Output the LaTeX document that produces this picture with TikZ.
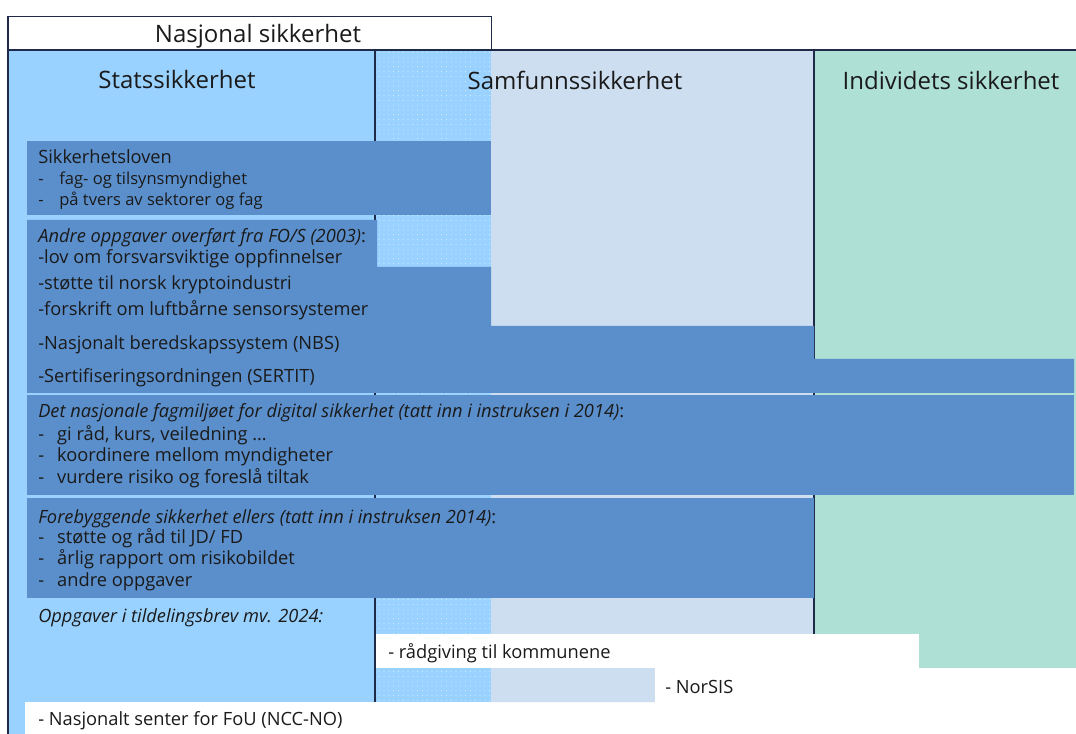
\documentclass[tikz,border=0pt]{standalone}
\usepackage{fontspec}
\setmainfont{Open Sans}
\usetikzlibrary{patterns.meta}

\definecolor{stateblue}{HTML}{99D1FF}
\definecolor{societyblue}{HTML}{CDDEF0}
\definecolor{personmint}{HTML}{AEE0D6}
\definecolor{taskblue}{HTML}{5B8FCB}
\definecolor{framecol}{HTML}{1F2A48}
\definecolor{ink}{HTML}{1A1A1A}

\newcommand\dashline[1]{\makebox[14.2pt][l]{-}#1}

\tikzset{
  framed/.style={draw=framecol, line width=1.1pt},
  frameline/.style={framecol, line width=1.1pt},
  taskbox/.style={fill=taskblue},
  whitebox/.style={fill=white},
  heading/.style={font=\fontsize{18}{22}\selectfont, text=ink, inner sep=0pt, anchor=base},
  bodytext/.style={font=\fontsize{13.7}{16}\selectfont, text=ink, inner sep=0pt, anchor=base west},
  smalltext/.style={font=\fontsize{12.4}{14}\selectfont, text=ink, inner sep=0pt, anchor=base west},
}

\begin{document}
\begin{tikzpicture}[x=0.75pt, y=-0.75pt]
\useasboundingbox (0,0) rectangle (1076,734);
\fill[white] (0,0) rectangle (1076,734);

% columns
\fill[stateblue]  (8,50) rectangle (375,734);
\fill[societyblue] (491,50) -- (814,50) -- (814,668) -- (655,668) -- (655,702) -- (491,702) -- cycle;
\fill[personmint] (814,50) rectangle (1076,668);

% overlap of state and society security: dotted
\fill[stateblue] (375,50) rectangle (491,702);
\fill[pattern={Dots[radius=0.33pt, distance=3.6pt]}, pattern color=white!85!stateblue] (375,50) rectangle (491,702);

% national security header box
\node[framed, fill=white, minimum width=483*0.75pt, minimum height=34*0.75pt, anchor=north west, inner sep=0pt] (nat) at (8,16) {};
\node[heading] (natlabel) at (258,43) {Nasjonal sikkerhet};

% column border lines
\draw[frameline] (8,50) -- (1076,50);
\draw[frameline] (8,16) -- (8,734);
\draw[frameline] (375,50) -- (375,702);
\draw[frameline] (814,50) -- (814,668);

% column headings
\node[heading] (state) at (177,89) {Statssikkerhet};
\node[heading] (society) at (575,90) {Samfunnssikkerhet};
\node[heading] (person) at (951,90) {Individets sikkerhet};

% task boxes
\fill[taskbox] (27,141) rectangle (491,215);
\fill[taskbox] (27,220) -- (377,220) -- (377,267) -- (491,267) -- (491,326) -- (814,326)
  -- (814,359) -- (1074,359) -- (1074,393) -- (27,393) -- cycle;
\fill[taskbox] (27,395) rectangle (1074,495);
\fill[taskbox] (27,498) rectangle (814,598);

% white boxes at the bottom
\fill[whitebox] (376,634) rectangle (919,668);
\fill[whitebox] (655,668) rectangle (814,702);
\fill[whitebox] (25,702) rectangle (491,734);

% Sikkerhetsloven
\node[bodytext] (law) at (38,164) {Sikkerhetsloven};
\node[smalltext] (law1) at (38,185) {\makebox[15.8pt][l]{-}fag- og tilsynsmyndighet};
\node[smalltext] (law2) at (38,206) {\makebox[15.8pt][l]{-}på tvers av sektorer og fag};

% tasks from FO/S
\node[bodytext] (fos) at (38,243) {\textit{Andre oppgaver overført fra FO/S (2003)}:};
\node[bodytext] (fos1) at (38,264) {-lov om forsvarsviktige oppfinnelser};
\node[bodytext] (fos2) at (38,290) {-støtte til norsk kryptoindustri};
\node[bodytext] (fos3) at (38,316) {-forskrift om luftbårne sensorsystemer};
\node[bodytext] (nbs) at (38,350) {-Nasjonalt beredskapssystem (NBS)};
\node[bodytext] (sertit) at (38,383) {-Sertifiseringsordningen (SERTIT)};

% digital security
\node[bodytext] (dig) at (38,418) {\textit{Det nasjonale fagmiljøet for digital sikkerhet (tatt inn i instruksen i 2014)}:};
\node[bodytext] (dig1) at (38,441) {\dashline{gi råd, kurs, veiledning …}};
\node[bodytext] (dig2) at (38,462) {\dashline{koordinere mellom myndigheter}};
\node[bodytext] (dig3) at (38,484) {\dashline{vurdere risiko og foreslå tiltak}};

% preventive security
\node[bodytext] (prev) at (38,523) {\textit{Forebyggende sikkerhet ellers (tatt inn i instruksen 2014)}:};
\node[bodytext] (prev1) at (38,544) {\dashline{støtte og råd til JD/ FD}};
\node[bodytext] (prev2) at (38,565) {\dashline{årlig rapport om risikobildet}};
\node[bodytext] (prev3) at (38,586) {\dashline{andre oppgaver}};

% allocation letter 2024
\node[bodytext] (alloc) at (38,623) {\textit{Oppgaver i tildelingsbrev mv. 2024:}};
\node[bodytext] (muni) at (388,658) {- rådgiving til kommunene};
\node[bodytext] (norsis) at (665,693) {- NorSIS};
\node[bodytext] (ncc) at (38,725) {- Nasjonalt senter for FoU (NCC-NO)};
\end{tikzpicture}
\end{document}
